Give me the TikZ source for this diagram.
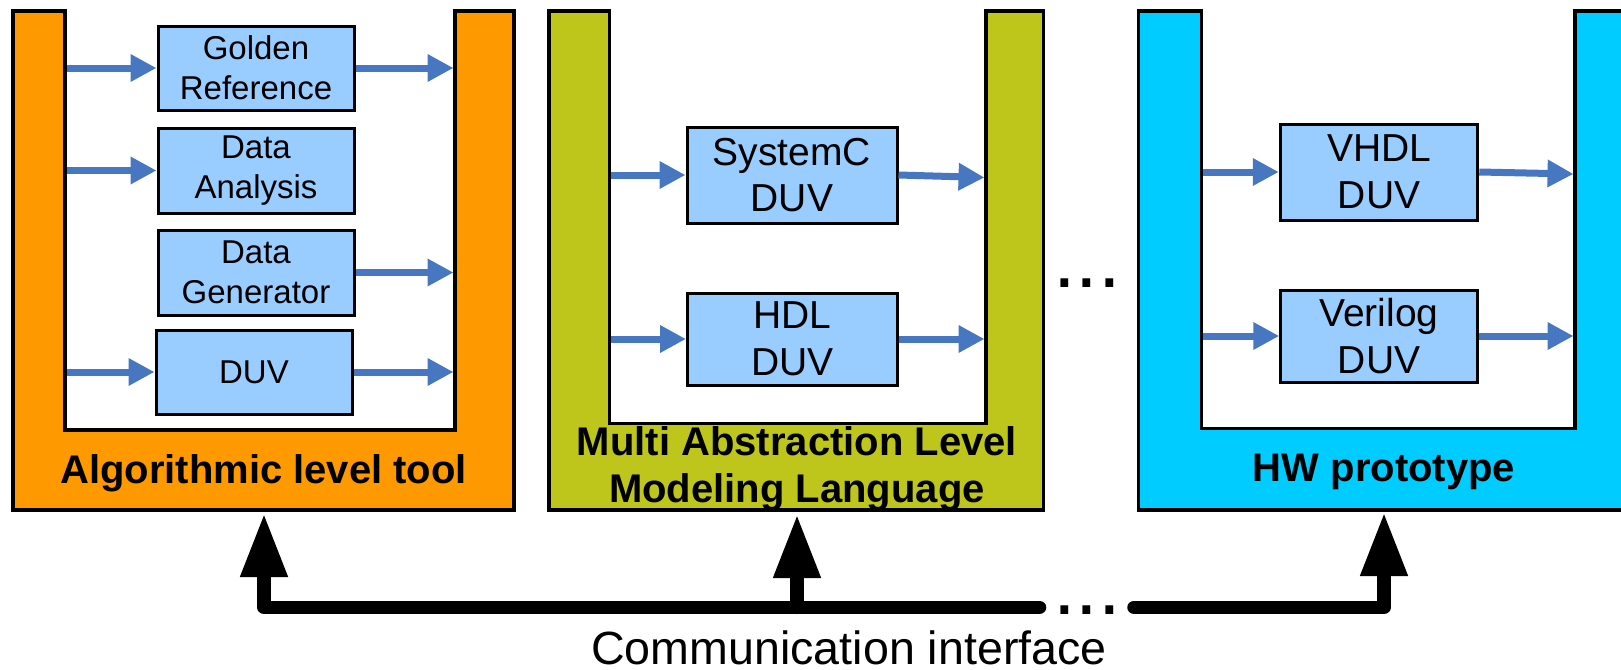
\documentclass[tikz,border=0pt]{standalone}
\usepackage{fontspec}
\setmainfont{Liberation Sans}
\usetikzlibrary{arrows.meta}
\definecolor{orangeU}{RGB}{255,153,0}
\definecolor{greenU}{RGB}{190,198,27}
\definecolor{cyanU}{RGB}{0,204,255}
\definecolor{boxblue}{RGB}{153,204,255}
\definecolor{arrowblue}{RGB}{71,119,192}
\begin{document}
\begin{tikzpicture}[x=0.5pt,y=-0.5pt,
  ushape/.style={draw=black,line width=1.65pt,line join=miter},
  blk/.style={draw=black,line width=1.5pt,fill=boxblue,inner sep=0pt,align=center},
  smallbox/.style={blk,minimum width=98pt,minimum height=42.5pt,font=\fontsize{16.5}{20.2}\selectfont},
  bigbox/.style={blk,minimum height=48pt,font=\fontsize{19.5}{23.3}\selectfont},
  barrow/.style={draw=arrowblue,line width=3.5pt,-{Triangle[length=13pt,width=13pt]}},
  bus/.style={draw=black,line width=6.75pt,line cap=round,line join=round},
  uparrow/.style={bus,-{Triangle[length=32pt,width=22pt]}},
  ulabel/.style={font=\bfseries\fontsize{20}{24}\selectfont,inner sep=0pt,anchor=base},
  dotstext/.style={font=\fontsize{40.7}{40.7}\selectfont,inner sep=0pt,anchor=base west},
  caption/.style={font=\fontsize{23.3}{28}\selectfont,inner sep=0pt,anchor=base}
]
\useasboundingbox (0,0) rectangle (1621,669);

% U-shaped frames
\filldraw[ushape,fill=orangeU] (13,11) -- (65,11) -- (65,430) -- (455,430) -- (455,11)
  -- (514,11) -- (514,510) -- (13,510) -- cycle;
\filldraw[ushape,fill=greenU] (549,11) -- (609.5,11) -- (609.5,423.5) -- (986,423.5) -- (986,11)
  -- (1043.5,11) -- (1043.5,510) -- (549,510) -- cycle;
\filldraw[ushape,fill=cyanU] (1138.5,11) -- (1201.5,11) -- (1201.5,428.5) -- (1575,428.5) -- (1575,11)
  -- (1645,11) -- (1645,510) -- (1138.5,510) -- cycle;

% inner edges of the frames
\coordinate (oL) at (66.5,0);   \coordinate (oR) at (453.5,0);
\coordinate (gL) at (611,0);    \coordinate (gR) at (984.5,0);
\coordinate (bL) at (1203,0);   \coordinate (bR) at (1573.5,0);
\coordinate (gRs) at (984.5,177.5);
\coordinate (bRs) at (1573.5,174);

% frame labels
\node[ulabel] (labO) at (263.5,483.5) {Algorithmic level tool};
\node[ulabel] (labG1) at (797,455) {Multi Abstraction Level};
\node[ulabel] (labG2) at (797,502.7) {Modeling Language};
\node[ulabel] (labB) at (1384,481.5) {HW prototype};

% left column
\node[smallbox,minimum height=42pt] (gold) at (256,68) {Golden\\Reference};
\node[smallbox] (da) at (256,170.5) {Data\\Analysis};
\node[smallbox] (dg) at (256,272.5) {Data\\Generator};
\node[smallbox,minimum height=42pt] (duv) at (254,372) {DUV};
\draw[barrow] (oL |- gold.west) -- (gold.west);
\draw[barrow] (gold.east) -- (oR |- gold.east);
\draw[barrow] (oL |- da.west) -- (da.west);
\draw[barrow] (dg.east) -- (oR |- dg.east);
\draw[barrow] (oL |- duv.west) -- (duv.west);
\draw[barrow] (duv.east) -- (oR |- duv.east);

% middle column
\node[bigbox,minimum width=105pt] (sysc) at (792,175) {SystemC\\DUV};
\node[bigbox,minimum width=105pt,minimum height=46pt] (hdl) at (792.5,339) {HDL\\DUV};
\draw[barrow] (gL |- sysc.west) -- (sysc.west);
\draw[barrow] (sysc.east) -- (gRs);
\draw[barrow] (gL |- hdl.west) -- (hdl.west);
\draw[barrow] (hdl.east) -- (gR |- hdl.east);

% right column
\node[bigbox,minimum width=98.75pt] (vhdl) at (1379,172) {VHDL\\DUV};
\node[bigbox,minimum width=98.25pt,minimum height=46pt] (veri) at (1379,336) {Verilog\\DUV};
\draw[barrow] (bL |- vhdl.west) -- (vhdl.west);
\draw[barrow] (vhdl.east) -- (bRs);
\draw[barrow] (bL |- veri.west) -- (veri.west);
\draw[barrow] (veri.east) -- (bR |- veri.east);

% ellipsis between frames
\node[dotstext] (dotsTop) at (1052.6,287) {...};

% communication bus
\coordinate (oBot) at (264,513);
\coordinate (gBot) at (797,514);
\coordinate (bBot) at (1384,512);
\coordinate (busL) at (264,607.3);
\coordinate (busM) at (797,607.3);
\coordinate (busE1) at (1039.5,607.3);
\coordinate (busS2) at (1134,607.3);
\coordinate (busR) at (1384,607.3);
\draw[uparrow] (busE1) -- (busL) -- (oBot);
\draw[uparrow] (busM) -- (gBot);
\draw[uparrow] (busS2) -- (busR) -- (bBot);
\node[dotstext] (dotsBus) at (1052.6,614) {...};

\node[caption] (comm) at (849,664.5) {Communication interface};
\end{tikzpicture}
\end{document}
